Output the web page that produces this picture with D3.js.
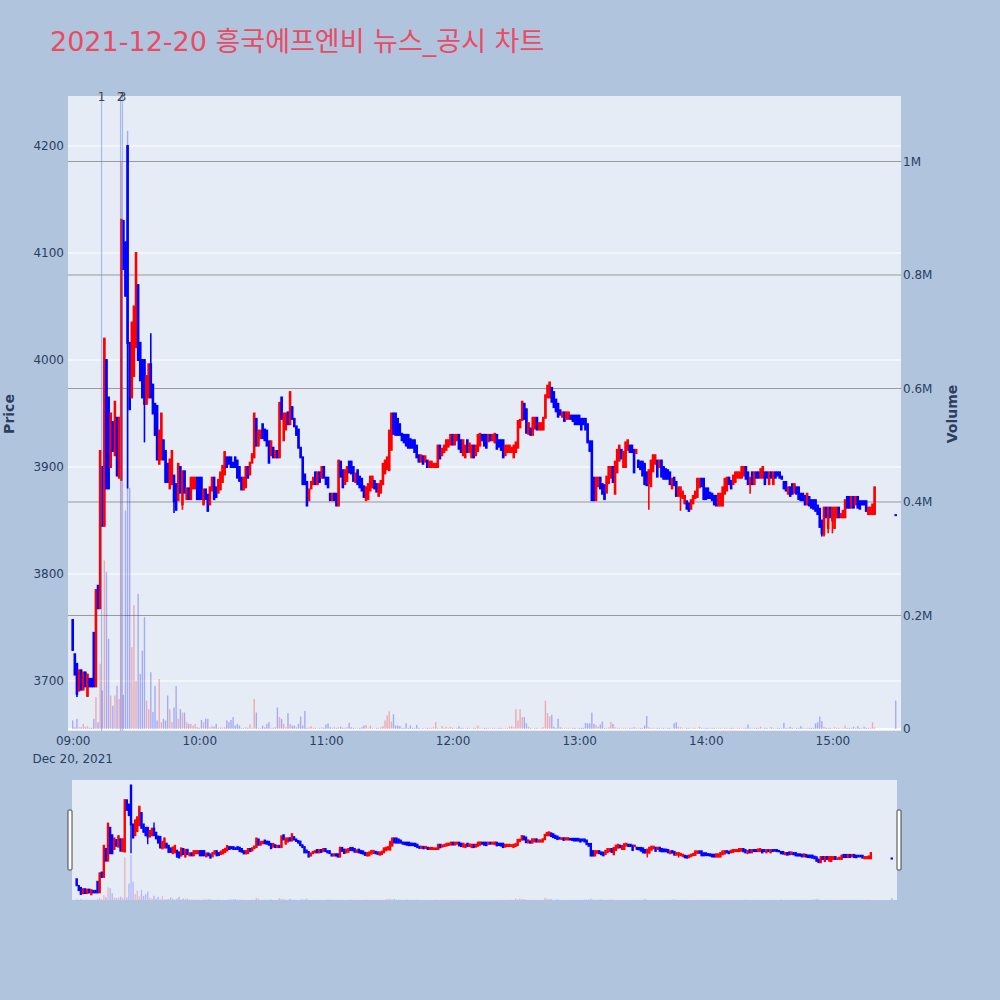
<!DOCTYPE html>
<html>
<head>
<meta charset="utf-8">
<script src="https://d3js.org/d3.v7.min.js"></script>
<style>
  body { margin: 0; background: #b0c4de; }
  svg text { font-family: "DejaVu Sans", Verdana, "Noto Sans CJK KR", sans-serif; }
</style>
</head>
<body>
<div id="chartDiv"></div>
<script>

const chartTitle = "2021-12-20 흥국에프엔비 뉴스_공시 차트";
const sessionStart = "2021-12-20 09:00";

// 1-minute candles from 09:00 (one entry per minute)
const opens = [
  3757,3725,3716,3691,3710,3692,3708,3686,3702,3702, 3745,3695,3789,3768,3900,3845,4000,3965,3900,3942,
  3911,3946,3890,3888,4130,4110,4200,4016,3965,3985, 4012,4070,4016,4000,4000,3959,3965,3996,3977,3959,
  3957,3903,3907,3925,3915,3903,3880,3884,3892,3884, 3869,3900,3865,3896,3870,3880,3870,3880,3880,3890,
  3890,3890,3865,3879,3874,3865,3878,3890,3881,3876, 3879,3886,3893,3909,3909,3909,3904,3909,3906,3900,
  3890,3879,3881,3900,3893,3904,3909,3945,3920,3927, 3940,3935,3934,3924,3911,3918,3909,3915,3909,3965,
  3925,3935,3951,3940,3956,3945,3938,3935,3918,3909, 3893,3886,3869,3880,3884,3895,3884,3895,3890,3900,
  3890,3890,3875,3869,3875,3875,3864,3905,3897,3884, 3887,3905,3905,3900,3886,3897,3891,3889,3882,3869,
  3870,3878,3881,3887,3884,3873,3876,3884,3894,3898, 3897,3916,3950,3950,3945,3940,3931,3930,3930,3930,
  3926,3925,3925,3920,3911,3905,3910,3905,3906,3900, 3900,3900,3900,3900,3920,3911,3914,3916,3919,3921,
  3930,3921,3925,3930,3925,3911,3909,3925,3914,3909, 3920,3911,3915,3920,3930,3930,3930,3924,3930,3925,
  3923,3930,3925,3925,3925,3911,3914,3914,3914,3909, 3914,3918,3937,3944,3959,3954,3931,3936,3930,3936,
  3946,3935,3935,3935,3946,3965,3965,3974,3970,3963, 3959,3953,3947,3951,3945,3945,3948,3948,3948,3948,
  3948,3945,3945,3945,3940,3924,3924,3890,3869,3882, 3890,3884,3883,3876,3885,3890,3900,3875,3895,3906,
  3916,3900,3900,3916,3920,3920,3916,3913,3906,3905, 3905,3903,3895,3885,3882,3896,3903,3906,3900,3906,
  3900,3898,3897,3895,3880,3890,3886,3873,3873,3871, 3866,3868,3866,3861,3866,3871,3872,3881,3889,3889,
  3880,3880,3876,3875,3873,3873,3864,3864,3864,3875, 3878,3890,3887,3884,3886,3890,3890,3890,3892,3900,
  3895,3884,3895,3884,3895,3895,3890,3890,3895,3895, 3884,3895,3884,3895,3895,3895,3891,3886,3886,3875,
  3881,3884,3876,3881,3881,3875,3875,3873,3865,3872, 3869,3869,3869,3864,3861,3850,3837,3862,3843,3862,
  3850,3843,3853,3862,3853,3853,3853,3872,3872,3862, 3872,3865,3872,3868,3868,3868,3868,3856,3856,3856,
  3856
];
const closes = [
  3729,3706,3688,3710,3692,3708,3695,3706,3695,3695, 3695,3785,3768,3915,3845,4020,3880,3880,3950,3915,
  3961,3892,3946,4131,4085,4060,4016,3954,4035,4050, 4100,4000,3981,3965,3959,3985,3996,3965,3950,3930,
  3907,3934,3950,3907,3886,3886,3907,3915,3868,3860, 3903,3876,3896,3876,3880,3870,3890,3890,3890,3870,
  3870,3870,3879,3870,3859,3881,3890,3870,3872,3888, 3895,3901,3914,3900,3903,3900,3900,3900,3890,3887,
  3879,3890,3900,3890,3904,3912,3950,3920,3934,3934, 3927,3925,3920,3904,3924,3909,3915,3909,3960,3945,
  3950,3950,3940,3970,3945,3938,3930,3918,3909,3884, 3884,3864,3879,3886,3890,3884,3895,3886,3900,3890,
  3884,3881,3869,3875,3869,3864,3906,3891,3881,3897, 3900,3895,3894,3887,3894,3884,3881,3878,3872,3881,
  3884,3891,3891,3880,3877,3884,3887,3903,3906,3909, 3934,3950,3931,3930,3930,3930,3925,3923,3920,3918,
  3918,3918,3914,3909,3905,3911,3903,3910,3900,3905, 3905,3903,3903,3920,3908,3917,3920,3925,3925,3930,
  3921,3930,3930,3917,3914,3925,3920,3914,3922,3920, 3909,3920,3930,3931,3925,3920,3918,3930,3925,3930,
  3931,3917,3919,3916,3909,3920,3920,3920,3918,3920, 3923,3943,3944,3961,3945,3932,3941,3930,3946,3946,
  3935,3941,3941,3946,3967,3976,3979,3961,3956,3952, 3947,3949,3951,3943,3951,3951,3945,3943,3940,3940,
  3940,3935,3940,3935,3923,3915,3869,3869,3890,3890, 3880,3875,3870,3891,3900,3900,3886,3905,3916,3920,
  3908,3914,3923,3925,3914,3914,3895,3916,3900,3898, 3892,3884,3883,3897,3906,3911,3911,3891,3906,3891,
  3889,3889,3889,3884,3889,3883,3873,3881,3881,3877, 3873,3861,3859,3869,3873,3877,3889,3889,3882,3870,
  3870,3871,3871,3869,3865,3864,3875,3875,3881,3889, 3890,3884,3880,3892,3895,3895,3895,3900,3900,3889,
  3884,3890,3884,3895,3890,3890,3898,3900,3884,3890, 3895,3890,3895,3890,3892,3890,3889,3880,3878,3881,
  3873,3875,3884,3875,3870,3869,3869,3865,3875,3864, 3862,3861,3859,3856,3844,3838,3862,3853,3862,3853,
  3862,3862,3862,3853,3856,3859,3869,3862,3862,3872, 3862,3872,3862,3861,3865,3865,3859,3862,3862,3865,
  3881
];
// [minute, high, low] where a wick reaches past the body
const wicks = [
  [2, null, 3685], [26, 4200, 3880], [34, null, 3923], [37, 4025, null], [48, null, 3857],
  [52, null, 3860], [273, null, 3860], [288, null, 3859], [321, null, 3875],
  [355, null, 3835], [356, null, 3835], [358, null, 3838], [360, null, 3838]
];
// volume per minute, thousands of shares
const volumes = [
  15,3,18,3,3,9,3,5,2,2, 18,56,12,115,68,297,277,159,59,41,
  59,76,53,1000,60,385,1054,425,144,218, 85,238,97,138,197,50,35,100,30,76,
  15,88,12,18,15,59,35,12,38,76, 18,35,29,29,12,9,9,6,9,3,
  2,16,12,18,18,3,5,4,9,2, 3,2,3,15,12,16,21,6,9,6,
  2,2,3,2,8,2,53,29,2,2, 6,3,9,12,2,2,3,38,21,18,
  9,3,28,9,6,6,3,9,22,6, 32,2,3,5,2,2,1,2,3,2,
  8,10,3,2,3,2,3,4,2,2, 3,11,3,2,2,1,2,3,6,7,
  2,6,2,1,2,2,3,5,15,24, 31,13,26,6,6,5,2,2,10,2,
  6,2,2,7,2,1,2,1,2,2, 2,3,12,2,1,5,2,4,2,4,
  2,1,2,5,2,2,1,2,2,1, 2,2,6,2,1,2,2,2,1,2,
  2,1,2,2,1,2,2,4,5,3, 35,15,35,21,21,10,4,2,1,2,
  2,1,2,3,50,28,22,25,4,2, 18,3,2,1,2,2,1,2,2,1,
  2,2,2,11,10,10,29,9,7,4, 8,13,2,2,3,12,9,3,2,2,
  1,2,2,1,2,2,3,2,1,2, 2,6,23,3,2,2,1,2,2,1,
  2,1,2,2,1,10,12,4,3,2, 1,2,2,1,2,2,1,4,2,1,
  2,2,1,2,2,1,2,2,1,2, 2,1,2,2,1,2,2,1,2,2,
  8,2,1,2,2,2,4,1,2,2, 1,3,2,1,2,2,1,11,2,2,
  4,2,1,2,2,5,2,1,2,2, 2,2,10,12,22,14,4,2,2,2,
  1,3,2,2,1,2,6,2,2,2, 4,2,5,2,1,4,2,2,2,12,
  3
];
// closing single-price auction
const auctionTime = "2021-12-20 15:30";
const auctionPrice = 3855;
const auctionVolume = 50;

const newsTimes = ["2021-12-20 09:13:40", "2021-12-20 09:22:40", "2021-12-20 09:23:35"];
const newsLabels = ["1", "2", "3"];

const priceTicks = [3700, 3800, 3900, 4000, 4100, 4200];
const volumeTicks = [0, 200000, 400000, 600000, 800000, 1000000];

const UP = "#ff0000", DOWN = "#0000ff";
const textColor = "#2a3f5f";

const parseMin = d3.timeParse("%Y-%m-%d %H:%M");
const parseSec = d3.timeParse("%Y-%m-%d %H:%M:%S");
const t0 = parseMin(sessionStart);

const wickMap = new Map(wicks.map(w => [w[0], w]));
const data = opens.map((o, i) => {
  const c = closes[i];
  const w = wickMap.get(i);
  return {
    t: d3.timeMinute.offset(t0, i),
    o, c,
    h: w && w[1] != null ? w[1] : Math.max(o, c),
    l: w && w[2] != null ? w[2] : Math.min(o, c),
    v: volumes[i] * 1000
  };
});
data.push({ t: parseMin(auctionTime), o: auctionPrice, c: auctionPrice,
            h: auctionPrice, l: auctionPrice, v: auctionVolume * 1000 });

const W = 1000, H = 1000;
const plot = { left: 68, right: 901, top: 96, bottom: 731 };

const svg = d3.select("#chartDiv").append("svg")
  .attr("width", W).attr("height", H);

svg.append("rect").attr("width", W).attr("height", H).attr("fill", "#b0c4de");

// title
svg.append("text")
  .attr("x", 50).attr("y", 51)
  .attr("fill", "#eb4b62")
  .style("font-size", "27px")
  .text(chartTitle);

const xDomain = [d3.timeSecond.offset(t0, -134), d3.timeSecond.offset(t0, 392.5 * 60)];
const x = d3.scaleTime().domain(xDomain).range([plot.left, plot.right]);
const y = d3.scaleLinear().domain([3700, 4200]).range([681, 146]);
const yVol = d3.scaleLinear().domain([0, 1115400]).range([729, 96]);

// plot background
svg.append("rect")
  .attr("x", plot.left).attr("y", plot.top)
  .attr("width", plot.right - plot.left).attr("height", plot.bottom - plot.top)
  .attr("fill", "#e5ecf6");

svg.append("clipPath").attr("id", "plotClip")
  .append("rect")
  .attr("x", plot.left).attr("y", plot.top)
  .attr("width", plot.right - plot.left).attr("height", plot.bottom - plot.top);

// grid lines
svg.append("g").selectAll("line")
  .data(priceTicks).enter().append("line")
  .attr("x1", plot.left).attr("x2", plot.right)
  .attr("y1", d => y(d)).attr("y2", d => y(d))
  .attr("stroke", "#ffffff").attr("stroke-width", 1);

svg.append("g").selectAll("line")
  .data(volumeTicks.slice(1)).enter().append("line")
  .attr("x1", plot.left).attr("x2", plot.right)
  .attr("y1", d => yVol(d)).attr("y2", d => yVol(d))
  .attr("stroke", "#999999").attr("stroke-width", 1);

svg.append("line")
  .attr("x1", plot.left).attr("x2", plot.right)
  .attr("y1", yVol(0)).attr("y2", yVol(0))
  .attr("stroke", "#ffffff").attr("stroke-width", 2);

const gPlot = svg.append("g").attr("clip-path", "url(#plotClip)");

// volume bars
const barW = 1.4;
gPlot.append("g").selectAll("rect")
  .data(data).enter().append("rect")
  .attr("x", d => x(d.t) - barW / 2)
  .attr("y", d => yVol(d.v))
  .attr("width", barW)
  .attr("height", d => yVol(0) - yVol(d.v))
  .attr("fill", d => d.c > d.o ? UP : DOWN)
  .attr("opacity", 0.28);

// candles
function drawCandles(g, xs, ys, bodyW, wickW) {
  const c = g.append("g").selectAll("g")
    .data(data).enter().append("g");
  c.append("line")
    .attr("x1", d => xs(d.t)).attr("x2", d => xs(d.t))
    .attr("y1", d => ys(d.h)).attr("y2", d => ys(d.l))
    .attr("stroke", d => d.c > d.o ? UP : DOWN)
    .attr("stroke-width", wickW);
  c.append("rect")
    .attr("x", d => xs(d.t) - bodyW / 2)
    .attr("y", d => Math.min(ys(d.o), ys(d.c)) - 1)
    .attr("width", bodyW)
    .attr("height", d => Math.abs(ys(d.o) - ys(d.c)) + 2)
    .attr("fill", d => d.c > d.o ? UP : DOWN);
}
drawCandles(gPlot, x, y, 2.6, 1.6);

// news markers
const news = newsTimes.map((s, i) => ({ t: parseSec(s), label: newsLabels[i] }));
svg.append("g").selectAll("line")
  .data(news).enter().append("line")
  .attr("x1", d => x(d.t)).attr("x2", d => x(d.t))
  .attr("y1", plot.top).attr("y2", plot.bottom)
  .attr("stroke", "rgba(90,120,235,0.45)").attr("stroke-width", 1.2);
svg.append("g").selectAll("text")
  .data(news).enter().append("text")
  .attr("x", d => x(d.t)).attr("y", 101)
  .attr("text-anchor", "middle")
  .attr("fill", "#444")
  .style("font-size", "12px")
  .text(d => d.label);

// axes
const xAxis = svg.append("g")
  .attr("transform", `translate(0,${plot.bottom})`)
  .call(d3.axisBottom(x).ticks(d3.timeHour.every(1)).tickFormat(d3.timeFormat("%H:%M")).tickSize(0).tickPadding(5));
xAxis.select(".domain").remove();
xAxis.selectAll("text").attr("fill", textColor).style("font-size", "12px")
  .style("font-family", "DejaVu Sans, Verdana, sans-serif");
svg.append("text")
  .attr("x", x(t0)).attr("y", 763)
  .attr("text-anchor", "middle")
  .attr("fill", textColor).style("font-size", "12px")
  .text(d3.timeFormat("%b %d, %Y")(t0));

const yAxis = svg.append("g")
  .attr("transform", `translate(${plot.left},0)`)
  .call(d3.axisLeft(y).tickValues(priceTicks).tickFormat(d3.format("d")).tickSize(0).tickPadding(4));
yAxis.select(".domain").remove();
yAxis.selectAll("text").attr("fill", textColor).style("font-size", "12px")
  .style("font-family", "DejaVu Sans, Verdana, sans-serif");

const volFmt = v => v === 0 ? "0" : d3.format("~g")(v / 1e6) + "M";
const yVolAxis = svg.append("g")
  .attr("transform", `translate(${plot.right},0)`)
  .call(d3.axisRight(yVol).tickValues(volumeTicks).tickFormat(volFmt).tickSize(0).tickPadding(2));
yVolAxis.select(".domain").remove();
yVolAxis.selectAll("text").attr("fill", textColor).style("font-size", "12px")
  .style("font-family", "DejaVu Sans, Verdana, sans-serif");

svg.append("text")
  .attr("transform", "translate(14,414) rotate(-90)")
  .attr("text-anchor", "middle")
  .attr("fill", textColor).style("font-size", "14px").style("font-weight", "bold")
  .text("Price");
svg.append("text")
  .attr("transform", "translate(957,414) rotate(-90)")
  .attr("text-anchor", "middle")
  .attr("fill", textColor).style("font-size", "14px").style("font-weight", "bold")
  .text("Volume");

// range slider
const slider = { left: 72, right: 897, top: 780, bottom: 900 };
const xs = d3.scaleTime().domain(xDomain).range([slider.left, slider.right]);
const ys = d3.scaleLinear().domain([3659, 4226]).range([slider.bottom, slider.top]);
const ysVol = d3.scaleLinear().domain([0, 2810000]).range([slider.bottom, slider.top]);

svg.append("rect")
  .attr("x", slider.left).attr("y", slider.top)
  .attr("width", slider.right - slider.left).attr("height", slider.bottom - slider.top)
  .attr("fill", "#e5ecf6");
const gSlider = svg.append("g");
gSlider.append("g").selectAll("rect")
  .data(data).enter().append("rect")
  .attr("x", d => xs(d.t) - 0.7)
  .attr("y", d => ysVol(d.v))
  .attr("width", 1.4)
  .attr("height", d => ysVol(0) - ysVol(d.v))
  .attr("fill", d => d.c > d.o ? UP : DOWN)
  .attr("opacity", 0.22);
drawCandles(gSlider, xs, ys, 2.4, 1.4);

[slider.left - 2, slider.right + 2].forEach(hx => {
  svg.append("rect")
    .attr("x", hx - 2).attr("y", 810)
    .attr("width", 4).attr("height", 60)
    .attr("fill", "#fff").attr("stroke", "#444").attr("stroke-width", 1)
    .attr("rx", 1);
});

</script>
</body>
</html>
